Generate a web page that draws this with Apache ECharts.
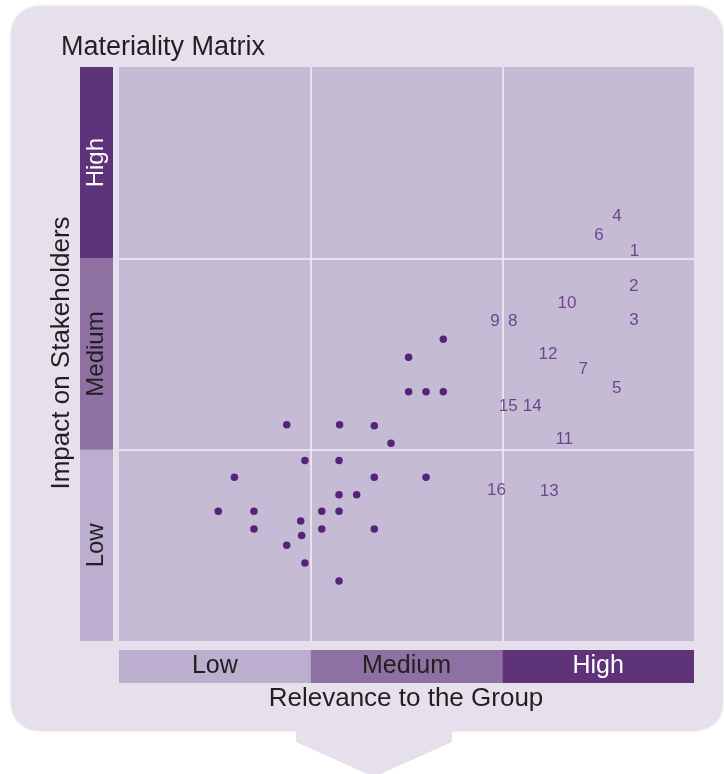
<!DOCTYPE html>
<html>
<head>
<meta charset="utf-8">
<script src="https://cdn.jsdelivr.net/npm/echarts@6/dist/echarts.min.js"></script>
<style>
  html, body { margin: 0; padding: 0; background: #fff; }
  #chart { width: 724px; height: 774px; }
</style>
</head>
<body>
<div id="chart"></div>
<script>
// levels used on both axes
const levels = ['Low', 'Medium', 'High'];
const levelColors = ['#bcaecf', '#8e70a2', '#5f3379'];
const levelTextColors = ['#231f20', '#231f20', '#ffffff'];

// numbered material issues (relevance x, impact y on a 0-30 scale)
const issueIds = ['1', '2', '3', '4', '5', '6', '7', '8', '9', '10', '11', '12', '13', '14', '15', '16'];
const issueX = [26.9, 26.85, 26.87, 25.98, 25.97, 25.04, 24.22, 20.54, 19.62, 23.37, 23.23, 22.38, 22.45, 21.56, 20.31, 19.69];
const issueY = [20.38, 18.52, 16.78, 22.18, 13.21, 21.22, 14.22, 16.72, 16.72, 17.65, 10.54, 15.0, 7.82, 12.28, 12.28, 7.86];

// unnumbered issues (dots)
const dotX = [16.92, 15.11, 15.11, 16.02, 16.92, 8.75, 11.51, 13.32, 14.19, 9.7, 11.48, 6.02, 13.32, 16.02,
  11.48, 12.4, 5.18, 7.04, 10.58, 11.48, 9.48, 7.04, 10.58, 13.32, 9.53, 8.75, 9.7, 11.48];
const dotY = [15.77, 14.83, 13.03, 13.03, 13.03, 11.3, 11.3, 11.25, 10.33, 9.44, 9.44, 8.56, 8.56, 8.56,
  7.65, 7.65, 6.78, 6.78, 6.78, 6.78, 6.27, 5.85, 5.85, 5.85, 5.52, 5.0, 4.08, 3.14];

const axisMax = 30;
const axisStep = 10;

const FONT = '"Liberation Sans", Arial, sans-serif';
const chart = echarts.init(document.getElementById('chart'));

const hiddenValueAxis = (grid) => ({
  type: 'value', gridIndex: grid, min: 0, max: 1, show: false
});
const hiddenCatAxis = (grid) => ({
  type: 'category', gridIndex: grid, data: levels, show: false
});

const levelBars = levels.map((l, i) => ({
  value: 1,
  itemStyle: { color: levelColors[i] },
  label: { color: levelTextColors[i] }
}));

const option = {
  animation: false,
  textStyle: { fontFamily: FONT },
  graphic: [
    {
      type: 'rect', z: -10,
      shape: { x: 11, y: 6, width: 712, height: 725, r: 28 },
      style: { fill: '#e6e0ec', shadowBlur: 3, shadowColor: 'rgba(0,0,0,0.12)' }
    },
    {
      type: 'polygon', z: -9,
      shape: { points: [[296, 728], [452, 728], [452, 742], [374, 777], [296, 742]] },
      style: { fill: '#e6e0ec' }
    },
    {
      type: 'text', x: 61, y: 48,
      style: { text: 'Materiality Matrix', fontSize: 27, fontFamily: FONT, fill: '#231f20',
        align: 'left', verticalAlign: 'middle' }
    },
    {
      type: 'text', x: 62, y: 353, rotation: Math.PI / 2,
      style: { text: 'Impact on Stakeholders', fontSize: 26, fontFamily: FONT, fill: '#231f20',
        align: 'center', verticalAlign: 'middle' }
    },
    {
      type: 'text', x: 406, y: 699,
      style: { text: 'Relevance to the Group', fontSize: 26, fontFamily: FONT, fill: '#231f20',
        align: 'center', verticalAlign: 'middle' }
    }
  ],
  grid: [
    { left: 119, top: 67, width: 575, height: 574, show: true, backgroundColor: '#c5bbd5', borderWidth: 0 },
    { left: 80, top: 67, width: 33, height: 574 },
    { left: 119, top: 650, width: 575, height: 33 }
  ],
  xAxis: [
    {
      type: 'value', gridIndex: 0, min: 0, max: axisMax, interval: axisStep,
      axisLine: { show: false }, axisTick: { show: false }, axisLabel: { show: false },
      splitLine: { show: true, showMinLine: false, showMaxLine: false,
        lineStyle: { color: '#f2eff5', width: 1.5 } }
    },
    hiddenValueAxis(1),
    hiddenCatAxis(2)
  ],
  yAxis: [
    {
      type: 'value', gridIndex: 0, min: 0, max: axisMax, interval: axisStep,
      axisLine: { show: false }, axisTick: { show: false }, axisLabel: { show: false },
      splitLine: { show: true, showMinLine: false, showMaxLine: false,
        lineStyle: { color: '#f2eff5', width: 1.5 } }
    },
    hiddenCatAxis(1),
    hiddenValueAxis(2)
  ],
  series: [
    {
      type: 'bar', xAxisIndex: 1, yAxisIndex: 1,
      barWidth: '100%', silent: true,
      data: levelBars,
      label: { show: true, position: 'inside', rotate: 90, formatter: '{b}',
        fontSize: 24, fontFamily: FONT }
    },
    {
      type: 'bar', xAxisIndex: 2, yAxisIndex: 2,
      barWidth: '100%', silent: true,
      data: levelBars,
      label: { show: true, position: 'inside', formatter: '{b}',
        fontSize: 25, fontFamily: FONT }
    },
    {
      type: 'scatter', xAxisIndex: 0, yAxisIndex: 0,
      symbol: 'circle', symbolSize: 7.5, silent: true,
      itemStyle: { color: '#55247a', opacity: 1 },
      data: dotX.map((x, i) => [x, dotY[i]])
    },
    {
      type: 'scatter', xAxisIndex: 0, yAxisIndex: 0,
      symbol: 'circle', symbolSize: 1, silent: true,
      itemStyle: { color: 'rgba(0,0,0,0)' },
      label: {
        show: true, position: 'inside', fontSize: 17, fontFamily: FONT, color: '#56287c',
        formatter: p => p.value[2]
      },
      data: issueIds.map((id, i) => [issueX[i], issueY[i], id])
    }
  ]
};

chart.setOption(option);
</script>
</body>
</html>
